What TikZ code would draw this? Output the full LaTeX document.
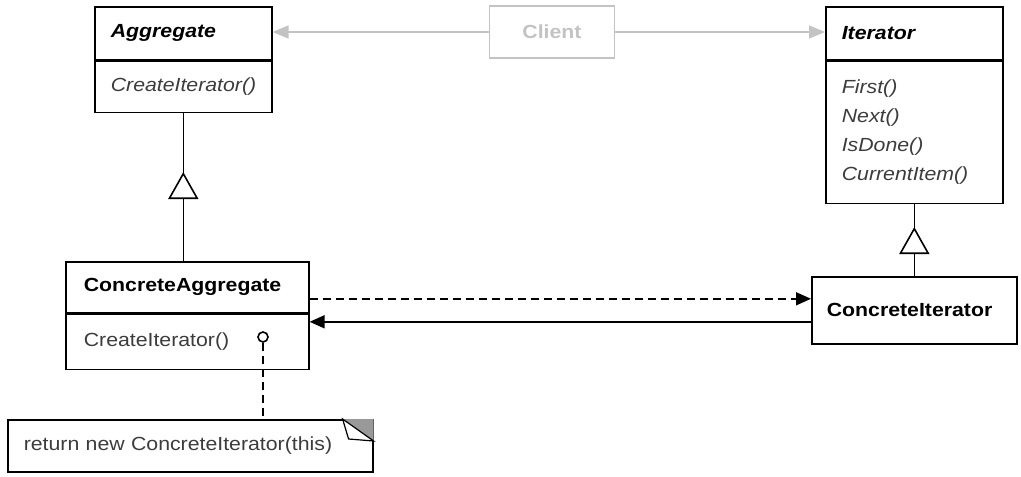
\documentclass[tikz,border=0pt]{standalone}
\usepackage{fontspec}
\setmainfont[FakeStretch=1.12]{Liberation Sans}
\usetikzlibrary{arrows.meta,positioning}

\definecolor{clientgray}{RGB}{195,195,195}
\definecolor{opgray}{RGB}{60,60,60}

\tikzset{
  classbox/.style={draw, line width=1.6pt, anchor=north west, align=left,
    inner xsep=16pt, inner ysep=0pt},
  classname/.style={font=\fontsize{19}{23}\selectfont\bfseries},
  opname/.style={font=\fontsize{19}{29}\selectfont, text=opgray},
  inherit/.style={line width=1.6pt, -{Triangle[open,length=27pt,width=30pt]}},
  assoc/.style={line width=1.6pt, -{Triangle[length=15pt,width=13pt]}}
}

\begin{document}
\begin{tikzpicture}[x=1pt,y=-1pt]
\useasboundingbox (0,0) rectangle (1021,477);

% Aggregate
\node[classbox, classname, minimum height=53pt, text width=145pt] (agg) at (94,6) {\itshape Aggregate};
\node[classbox, opname, minimum height=51pt, text width=145pt] (aggops) at (agg.south west) {\itshape CreateIterator()};

% Iterator
\node[classbox, classname, minimum height=53pt, text width=145pt] (it) at (825,6) {\itshape Iterator};
\node[classbox, opname, minimum height=142pt, text width=145pt] (itops) at (it.south west)
  {\itshape First()\\ \itshape Next()\\ \itshape IsDone()\\ \itshape CurrentItem()};

% Client
\node[draw=clientgray, line width=1.6pt, minimum width=125pt, minimum height=52pt,
  text=clientgray, classname] (client) at (552,32) {Client};

% ConcreteAggregate
\node[classbox, classname, minimum height=51pt, text width=207pt, inner xsep=18pt] (cagg) at (65,261) {ConcreteAggregate};
\node[classbox, opname, minimum height=55pt, text width=207pt, inner xsep=18pt] (caggops) at (cagg.south west) {CreateIterator()};

% ConcreteIterator
\node[classbox, classname, minimum height=67pt, text width=175pt, inner xsep=15pt] (cit) at (811,276) {ConcreteIterator};

% note
\node[classbox, opname, minimum height=52pt, text width=333pt] (note) at (7,419) {return new ConcreteIterator(this)};
\fill[gray!80] (note.north east) -- ++(-31,0) -- ++(31,22) -- cycle;
\filldraw[fill=white, line width=1.2pt] (note.north east) ++(-31,0) -- ++(6,20) -- ++(25,2) -- cycle;
\node[circle, draw, line width=1.6pt, minimum size=10pt, inner sep=0pt] (impl) at (263,337) {};
\draw[line width=1.6pt, dash pattern=on 8pt off 5pt] (impl.south) -- (impl |- note.north);

% client arrows
\draw[line width=1.6pt, clientgray, -{Triangle[length=16pt,width=13pt]}] (client.west) -- (client.west -| agg.east);
\draw[line width=1.6pt, clientgray, -{Triangle[length=16pt,width=13pt]}] (client.east) -- (client.east -| it.west);

% inheritance
\draw[inherit] (cagg.north -| aggops.south) -- ++(0,-89);
\draw[line width=1.6pt] (aggops.south) -- ++(0,62);
\draw[inherit] (cit.north) -- ++(0,-49);
\draw[line width=1.6pt] (itops.south) -- ++(0,26);

% associations
\coordinate (dashend) at ([yshift=11.5pt]cit.west);
\coordinate (solidstart) at ([yshift=-11.5pt]cit.west);
\draw[assoc, dash pattern=on 8pt off 5pt] (dashend -| cagg.east) -- (dashend);
\draw[assoc] (solidstart) -- (solidstart -| cagg.east);
\end{tikzpicture}
\end{document}
